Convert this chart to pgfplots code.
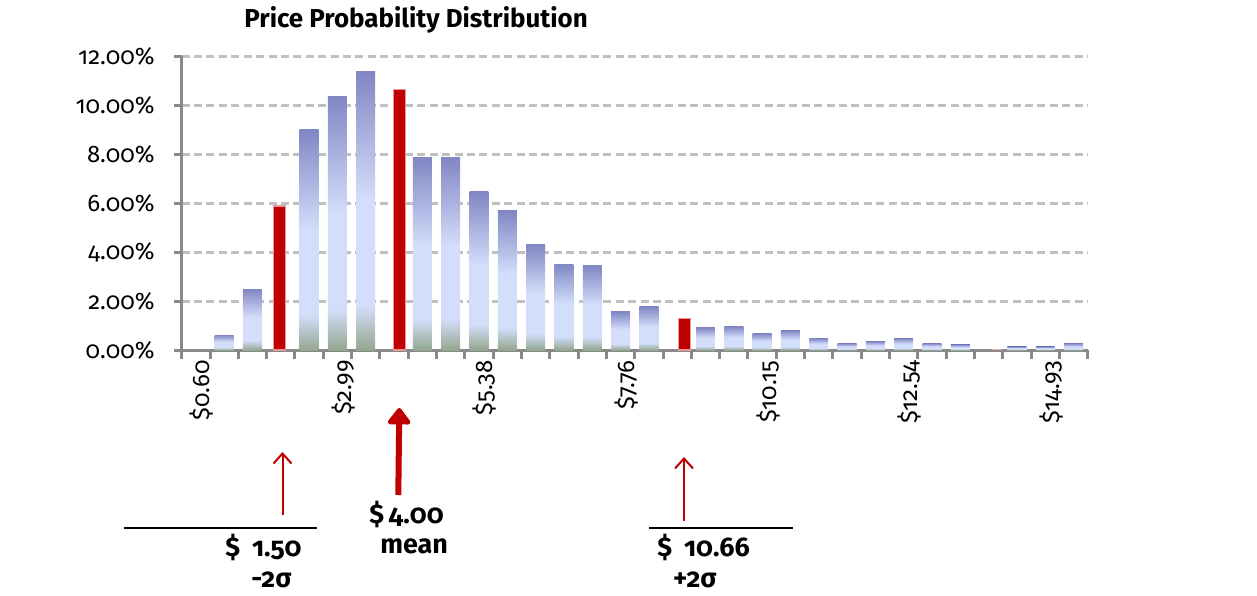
\documentclass[border=0pt]{standalone}
\usepackage{fontspec}
\setmainfont{Fira Sans}[Numbers=OldStyle]
\usepackage{pgfplots}
\pgfplotsset{compat=1.18}
\usetikzlibrary{arrows.meta}

\definecolor{bdark}{HTML}{8087C3}
\definecolor{blight}{HTML}{D3DEFB}
\definecolor{bgreen}{HTML}{93A78F}
\definecolor{mred}{HTML}{C00000}
\definecolor{axgray}{HTML}{898989}
\definecolor{gridgray}{HTML}{C0C0C0}
\pgfdeclareverticalshading{barshade}{100bp}{color(0bp)=(bgreen); color(25bp)=(bgreen); color(33bp)=(blight); color(52bp)=(blight); color(75bp)=(bdark); color(100bp)=(bdark)}

% one plot per bar, so that every bar gets its own gradient
\newcommand\bluebar[2]{\addplot[ybar, bar width=0.67, bar shift=0, draw=none, shading=barshade] coordinates {(#1,#2)};}

\begin{document}
\begin{tikzpicture}[x=1bp,y=1bp]
\begin{axis}[
    scale only axis,
    width=453bp, height=147bp,
    xmin=-0.5, xmax=31.5,
    ymin=0, ymax=12,
    axis x line*=bottom, axis y line*=left,
    axis line style={axgray, line width=1.5bp},
    xtick={0,5,...,30},
    xticklabels={\$0.60,\$2.99,\$5.38,\$7.76,\$10.15,\$12.54,\$14.93},
    major x tick style={draw=none},
    minor xtick={-0.5,0.5,...,31.5},
    minor x tick style={axgray, line width=1.5bp},
    minor tick length=4.5bp,
    xticklabel style={rotate=90, anchor=east, font=\fontsize{12}{12}\selectfont, inner sep=1bp, yshift=-3bp},
    ytick={0,2,...,12},
    yticklabel={\pgfmathprintnumber[fixed,fixed zerofill,precision=2,assume math mode=true]{\tick}\%},
    yticklabel style={font=\fontsize{12}{12}\selectfont, xshift=-6bp},
    y tick style={axgray, line width=1.5bp},
    major tick length=4bp,
    tick align=outside,
    ymajorgrids,
    grid style={gridgray, line width=1.5bp, dash pattern=on 4bp off 2.2bp},
    /pgf/number format/assume math mode=true,
    clip=false,
]
% blue bars (categories 3, 7, 17 and 28 are drawn in red)
\bluebar{1}{0.61}  \bluebar{2}{2.49}  \bluebar{4}{9.02}  \bluebar{5}{10.36}
\bluebar{6}{11.38} \bluebar{8}{7.84}  \bluebar{9}{7.84}  \bluebar{10}{6.45}
\bluebar{11}{5.71} \bluebar{12}{4.29} \bluebar{13}{3.50} \bluebar{14}{3.43}
\bluebar{15}{1.56} \bluebar{16}{1.77} \bluebar{18}{0.92} \bluebar{19}{0.96}
\bluebar{20}{0.67} \bluebar{21}{0.79} \bluebar{22}{0.47} \bluebar{23}{0.27}
\bluebar{24}{0.35} \bluebar{25}{0.47} \bluebar{26}{0.27} \bluebar{27}{0.22}
\bluebar{29}{0.14} \bluebar{30}{0.14} \bluebar{31}{0.27}
% red marker bars: -2 sigma, mean, +2 sigma
\addplot[ybar, bar width=0.42, bar shift=0, fill=mred, draw=mred!40, line width=0.6bp] coordinates {
 (2.95,5.88) (7.2,10.62) (17.25,1.27)
};
\addplot[ybar, bar width=0.38, bar shift=0, fill=mred!30, draw=none] coordinates {
 (28.3,0.06)
};
\end{axis}
% title
\node[font=\bfseries\fontsize{13}{13}\selectfont] at (117.2,165) {Price Probability Distribution};
% annotations
\draw[black, line width=1bp] (-28.85,-89) -- (67.65,-89);
\draw[black, line width=1bp] (233.65,-89) -- (305.65,-89);
\draw[mred, line width=1bp, -{Straight Barb[width=9bp,length=5bp]}] (50.4,-82.5) -- (50.4,-51);
\draw[mred, line width=1bp, -{Straight Barb[width=9bp,length=5bp]}] (251.15,-85.5) -- (251.15,-53.5);
\draw[mred, line width=3bp, -{Triangle[width=13bp,length=9bp,round]}] (108.3,-72.5) -- (108.8,-29);
\begin{scope}[font=\bfseries\fontsize{13.5}{13.5}\selectfont]
\node[anchor=west, inner sep=0] at (21.6,-98.5) {\$\hspace{6bp}1.50};
\node[inner sep=0] at (44.9,-115) {-2σ};
\node[inner sep=0] at (112.4,-82) {\$\,4.00};
\node[inner sep=0] at (116.2,-98) {mean};
\node[anchor=west, inner sep=0] at (237.6,-98.5) {\$\hspace{6bp}10.66};
\node[inner sep=0] at (256.6,-115) {+2σ};
\end{scope}
\pgfresetboundingbox
\useasboundingbox (-90.85,-122.5) rectangle (537.65,175);
\end{tikzpicture}
\end{document}
